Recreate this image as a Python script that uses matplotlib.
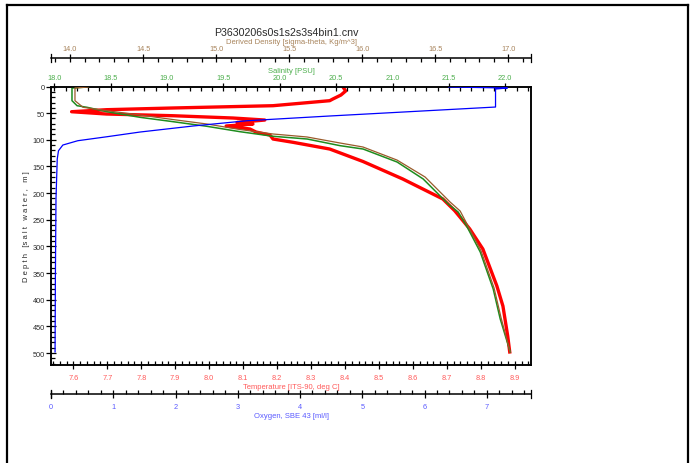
import matplotlib.pyplot as plt
from matplotlib.ticker import MultipleLocator, FormatStrFormatter
from matplotlib.lines import Line2D

plt.rcParams['font.family'] = ['Liberation Sans', 'DejaVu Sans']

# temperature profile (deg C) vs depth (m)
temp_depth = [0.9, 8.4, 16, 23.5, 26.6, 36, 40.3, 43.5, 47.3, 51.6, 54.8, 59.1, 62.9,
              67.5, 70.4, 74.1, 79.7, 85.4, 91, 98.5, 104.7, 117.3, 140.7, 173.5, 211,
              233, 267, 305, 374, 412, 468, 498]
temp = [8.394, 8.402, 8.388, 8.364, 8.355, 8.188, 7.893, 7.698, 7.595, 7.698, 7.893, 8.070, 8.164,
        8.082, 8.129, 8.050, 8.120, 8.138, 8.179, 8.188, 8.247, 8.355, 8.453, 8.570, 8.688,
        8.723, 8.767, 8.806, 8.847, 8.865, 8.879, 8.885]

# salinity (PSU)
sal_depth = [0.9, 2.8, 26.6, 36, 39, 47.3, 57.8, 66, 74.7, 84.8, 93.4, 98.5, 111, 117.3,
             141.7, 173.5, 220.5, 235.5, 263.6, 310.5, 380, 436, 498]
sal = [18.299, 18.157, 18.157, 18.202, 18.290, 18.468, 18.761, 19.054, 19.355, 19.648, 19.941,
       20.243, 20.535, 20.739, 21.041, 21.272, 21.494, 21.582, 21.662, 21.778, 21.893, 21.955, 22.044]

# density, sigma-theta
den_depth = [0.9, 2.8, 26.6, 39, 45.4, 53.5, 62, 70.4, 80.7, 89.1, 94.7, 106, 113.5, 138,
             169.8, 216.7, 233.6, 261.7, 308.6, 378, 434, 498]
den = [14.123, 14.034, 14.034, 14.089, 14.253, 14.479, 14.705, 14.938, 15.164, 15.390, 15.622,
       15.848, 16.005, 16.238, 16.430, 16.601, 16.670, 16.724, 16.813, 16.902, 16.950, 17.012]

# oxygen, SBE 43 (ml/l)
oxy_depth = [0.9, 2.8, 4.7, 38.5, 55.3, 64.2, 74.1, 85.4, 94.2, 101.7, 109.8, 120.5, 136,
             211, 361, 498]
oxy = [6.39, 7.33, 7.14, 7.14, 4.48, 3.15, 2.28, 1.43, 0.90, 0.43, 0.19, 0.12, 0.10,
       0.08, 0.07, 0.065]

TEMP_C = '#ff0000'
TEMP_T = '#ff5a5a'
SAL_C = '#1e8c1e'
SAL_T = '#4cae4c'
DEN_C = '#9a5a2a'
DEN_T = '#a8845c'
OXY_C = '#0000ff'
OXY_T = '#5a5aff'
TXT = '#2a2a2a'

fig = plt.figure(figsize=(6.95, 4.64), dpi=100)
ax = fig.add_axes([0.0734, 0.2112, 0.6911, 0.6002])
ax_sal = ax.twiny()
ax_den = ax.twiny()
ax_oxy = ax.twiny()

ax.plot(temp, temp_depth, color=TEMP_C, lw=2.4, solid_joinstyle='round')
ax_sal.plot(sal, sal_depth, color=SAL_C, lw=1.1)
ax_den.plot(den, den_depth, color=DEN_C, lw=0.9)
ax_oxy.plot(oxy, oxy_depth, color=OXY_C, lw=0.9)

ax.set_ylim(522.5, 0)
ax.set_xlim(7.5344, 8.9486)
ax_sal.set_xlim(17.971, 22.231)
ax_den.set_xlim(13.870, 17.157)
ax_oxy.set_xlim(0.0, 7.715)

for a in (ax, ax_sal, ax_den, ax_oxy):
    for s in a.spines.values():
        s.set_linewidth(1.1)

for s in ('left', 'right', 'bottom'):
    ax_den.spines[s].set_visible(False)
ax_den.spines['top'].set_position(('axes', 1.1023))

for s in ('left', 'right', 'top'):
    ax_oxy.spines[s].set_visible(False)
ax_oxy.xaxis.set_ticks_position('bottom')
ax_oxy.xaxis.set_label_position('bottom')
ax_oxy.spines['bottom'].set_position(('axes', -0.1041))
ax_oxy.spines['bottom'].set_visible(True)

# end caps on the detached axes
for yy in (1.1023, -0.1041):
    for xx in (0.0, 1.0):
        ax.add_line(Line2D([xx, xx], [yy - 0.013, yy + 0.013], transform=ax.transAxes,
                           color='black', lw=0.9, clip_on=False))

# ticks
def style_x(a, major, minor, fmt, tcol, pad=1.5, size=5.3):
    a.xaxis.set_major_locator(MultipleLocator(major))
    a.xaxis.set_minor_locator(MultipleLocator(minor))
    a.xaxis.set_major_formatter(FormatStrFormatter(fmt))
    a.tick_params(axis='x', which='major', direction='inout', length=6, width=0.9,
                  labelcolor=tcol, labelsize=size, pad=pad)
    a.tick_params(axis='x', which='minor', direction='in', length=2.6, width=0.9)

style_x(ax, 0.1, 0.02, '%.1f', TEMP_T, pad=3.5)
style_x(ax_sal, 0.5, 0.1, '%.1f', SAL_T, pad=1.0)
style_x(ax_den, 0.5, 0.1, '%.1f', DEN_T, pad=1.0)
style_x(ax_oxy, 1, 0.2, '%d', OXY_T, pad=3.5)

ax.yaxis.set_major_locator(MultipleLocator(50))
ax.yaxis.set_minor_locator(MultipleLocator(10))
ax.tick_params(axis='y', which='major', direction='inout', length=7, width=0.9,
               labelcolor=TXT, labelsize=5.3, pad=1.0)
ax.tick_params(axis='y', which='minor', direction='in', length=2.6, width=0.9)

ax.set_xlabel('Temperature [ITS-90, deg C]', color=TEMP_T, fontsize=5.5, labelpad=1.5)
ax_sal.set_xlabel('Salinity [PSU]', color=SAL_T, fontsize=5.5, labelpad=1.5)
ax_den.set_xlabel('Derived Density [sigma-theta, Kg/m^3]', color=DEN_T, fontsize=5.5, labelpad=1.5)
ax_oxy.set_xlabel('Oxygen, SBE 43 [ml/l]', color=OXY_T, fontsize=5.5, labelpad=1.5)
ax.set_ylabel('D e p t h   [s a l t   w a t e r ,   m ]', color=TXT, fontsize=5.5, labelpad=2)

fig.text(0.4115, 0.9289, 'P3630206s0s1s2s3s4bin1.cnv', ha='center', va='center',
         fontsize=7.7, color=TXT)

# page frame
frame = dict(color='black', lw=1.6, transform=fig.transFigure)
fig.add_artist(Line2D([0.0101, 0.0101], [0.0, 0.987], **frame))
fig.add_artist(Line2D([0.0101, 0.9899], [0.987, 0.987], **frame))
fig.add_artist(Line2D([0.9899, 0.9899], [0.0, 0.987], **frame))

fig.savefig('out.png', dpi=100)
